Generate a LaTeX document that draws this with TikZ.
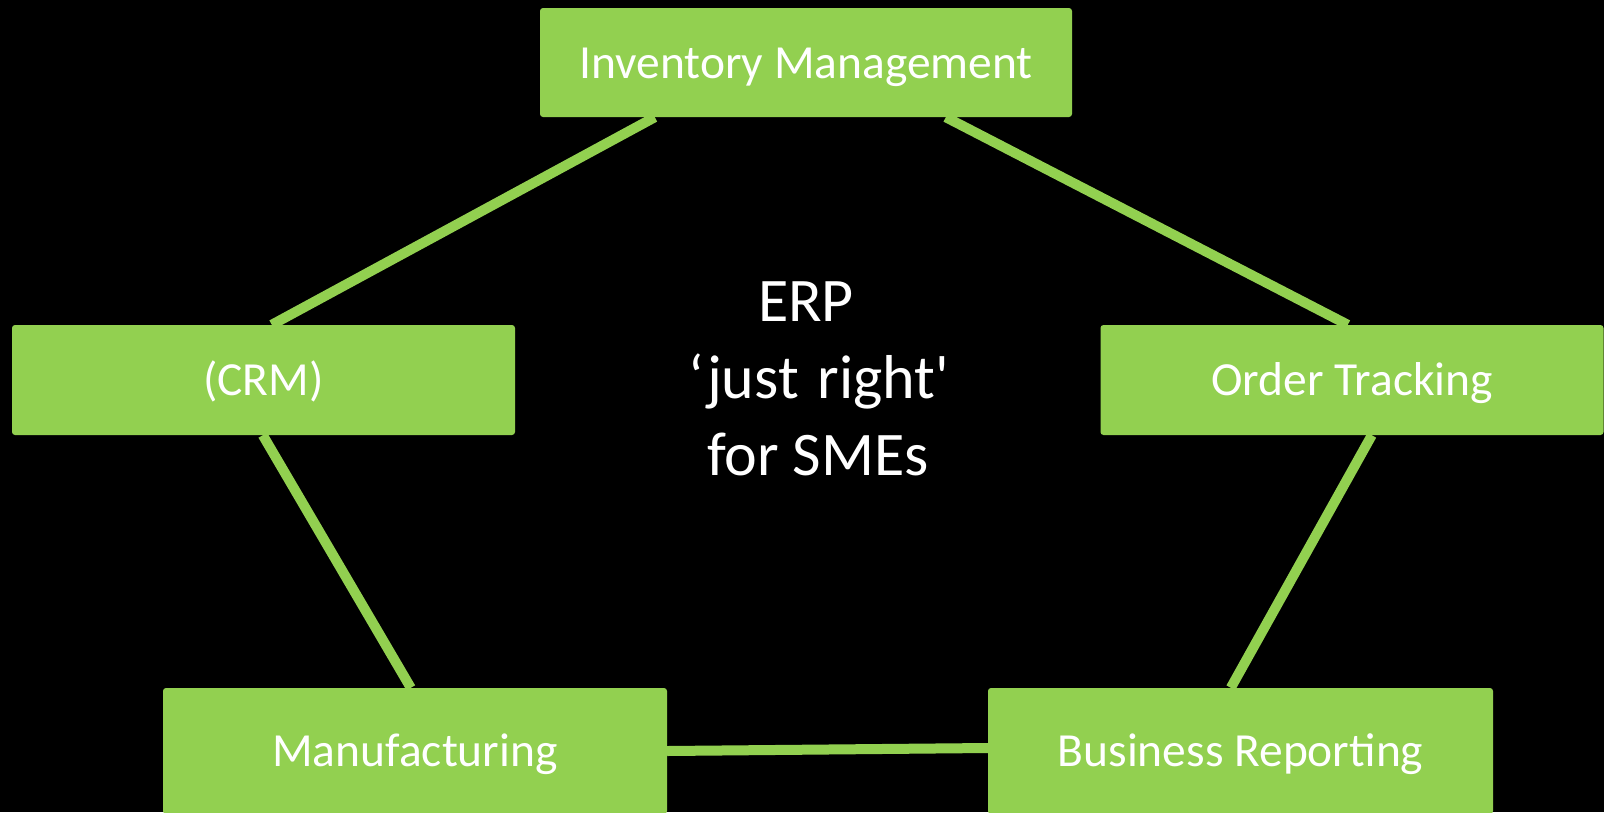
\documentclass[tikz,border=0pt]{standalone}
\usepackage{fontspec}
\setmainfont{Carlito}[Ligatures=TeXOff]
\definecolor{erpgreen}{HTML}{92D050}
\begin{document}
\begin{tikzpicture}[x=1pt,y=-1pt,
  modbox/.style={fill=erpgreen, draw=none, rounded corners=3pt, text=white,
    font=\fontsize{47.5}{57}\selectfont, text height=31pt, text depth=0pt,
    inner sep=0pt, minimum height=110pt, minimum width=503pt},
  link/.style={draw=erpgreen, line width=10pt, line cap=butt}]
\fill[black] (0,0) rectangle (1604,812);
\useasboundingbox (0,0) rectangle (1604,812);
\clip (0,0) rectangle (1604,812);

\node[modbox, minimum width=532pt, minimum height=109pt] (inv) at (806,62.5) {Inventory Management};
\node[modbox] (crm) at (263.5,380) {(CRM)};
\node[modbox] (ot) at (1352,380) {Order Tracking};
\node[modbox, minimum width=504pt, minimum height=126pt] (man) at (415,751) {Manufacturing};
\node[modbox, minimum width=505pt, minimum height=126pt] (br) at (1240.5,751) {Business Reporting};

\node[text=white, font=\fontsize{62}{77}\selectfont, align=center, inner sep=0pt,
  text height=39pt, text depth=0pt] (erp) at (818,456)
  {ERP\hspace*{24pt}\\\hspace*{2pt}‘\hspace{3pt}just\hspace{5pt} right'\\for SMEs};

\draw[link] ([xshift=115pt]inv.south west) -- ([xshift=260pt]crm.north west);
\draw[link] ([xshift=406pt]inv.south west) -- ([xshift=247.5pt]ot.north west);
\draw[link] ([xshift=251pt]crm.south west) -- ([xshift=248pt]man.north west);
\draw[link] ([xshift=271.5pt]ot.south west) -- ([xshift=243pt]br.north west);
\draw[link] (man.east) -- ([yshift=3pt]br.west);
\end{tikzpicture}
\end{document}
